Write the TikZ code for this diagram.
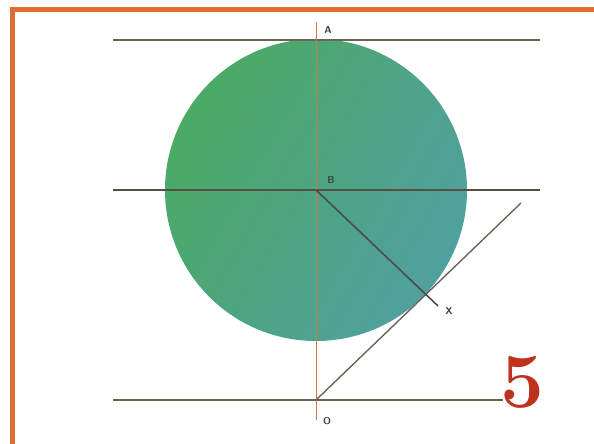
\documentclass[tikz,border=0pt]{standalone}
\usepackage{xcolor}
\usepackage{tikz}
\usetikzlibrary{calc, positioning}

\definecolor{framec}{RGB}{222,110,50}
\definecolor{linec}{RGB}{105,100,85}
\definecolor{axisc}{RGB}{205,120,80}
\definecolor{discA}{RGB}{75,170,100}
\definecolor{discB}{RGB}{80,160,160}
\definecolor{numc}{RGB}{190,50,30}

\begin{document}
\begin{tikzpicture}[
    x=1pt, y=-1pt,
    hline/.style={draw=linec, line width=1.6pt},
    lbl/.style={font=\sffamily\bfseries\fontsize{10}{10}\selectfont, text=black!75, inner sep=1pt},
]
    \useasboundingbox (0,0) rectangle (594,444);

    % disc tangent to the top line and to the slanted line
    \shade[left color=discA, right color=discB, shading angle=60] (316,190) circle (151);

    % frame
    \draw[framec, line width=5pt] (12.5,444) -- (12.5,9.5) -- (594,9.5);

    \coordinate (b) at (316,190);
    \coordinate (o) at (316,400);
    \coordinate (a) at (316,40);
    \coordinate (top) at (316,22);
    \coordinate (bot) at (316,420);
    \coordinate (s) at (521,203);
    \coordinate (xe) at (438,306);

    \draw[hline] (113,40) -- (540,40);
    \draw[hline, draw=linec!80!black] (113,190) -- (540,190);
    \draw[hline] (113,400) -- (503,400);

    \draw[axisc, line width=1pt] (top) -- (bot);
    \draw[hline, line width=1.4pt] (o) -- (s);
    \draw[hline, draw=black!70, line width=1.6pt] (b) -- (xe);

    \node[lbl] (A) at (328,30) {A};
    \node[lbl] (B) at (331,180) {B};
    \node[lbl] (X) at (449,311) {X};
    \node[lbl] (O) at (327,421) {O};

    \node[font=\bfseries\fontsize{78}{78}\selectfont, text=numc] (five) at (522,382) {5};
\end{tikzpicture}
\end{document}
